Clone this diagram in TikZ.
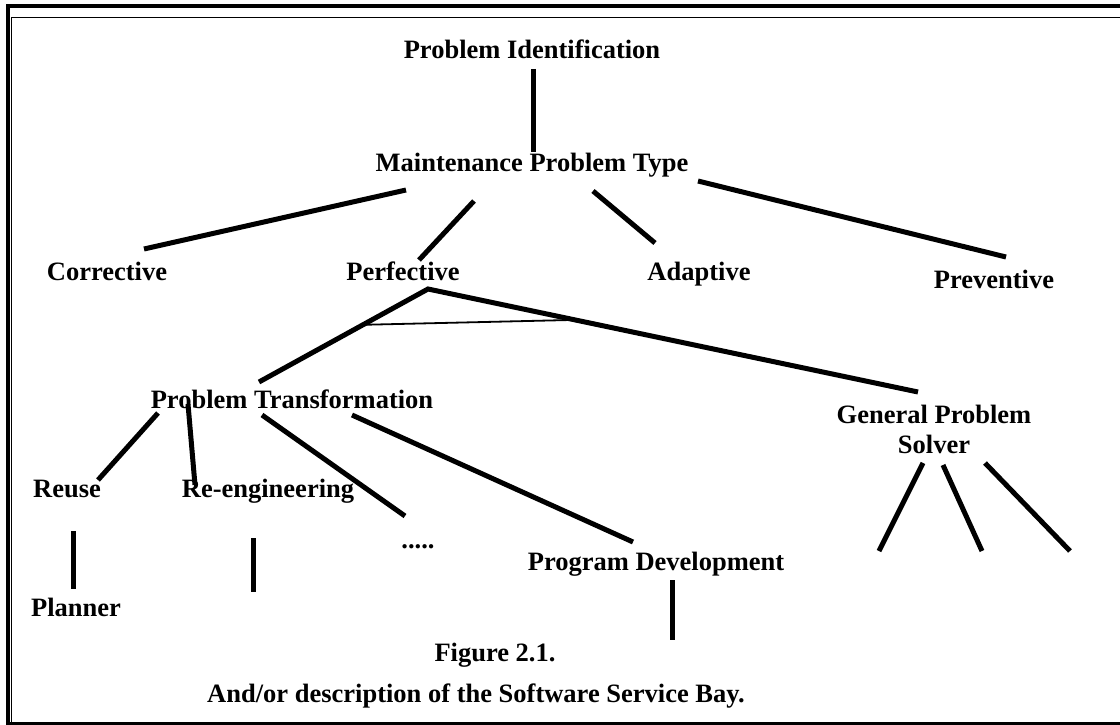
\documentclass[tikz,border=0pt]{standalone}
\usepackage{fontspec}
\setmainfont{Liberation Serif}
\usetikzlibrary{calc}
\tikzset{
  lbl/.style={font=\fontsize{26.5}{30}\selectfont\bfseries,
              inner sep=0pt,anchor=base},
  lbl2/.style={lbl,anchor=center,align=center},
  link/.style={line width=5pt},
  andlink/.style={line width=1.8pt},
  frameout/.style={line width=4pt},
  framein/.style={line width=1.6pt},
}
\begin{document}
\begin{tikzpicture}[x=1pt,y=-1pt]
    \useasboundingbox (0,0) rectangle (1120,725);

    % Frame
    \draw[frameout] (8,725) -- (8,6) -- (1120,6);
    \draw[framein] (11.5,722) -- (11.5,17.5) -- (1120,17.5);
    \draw[line width=3pt] (6,723.5) -- (1120,723.5);

    % Top levels
    \node[lbl] (pid) at (532,59) {Problem Identification};
    \node[lbl] (mpt) at (532,171) {Maintenance Problem Type};

    % Problem types
    \node[lbl] (cor) at (107,280) {Corrective};
    \node[lbl] (perf) at (403,280) {Perfective};
    \node[lbl] (adap) at (699,280) {Adaptive};
    \node[lbl] (prev) at (994,288) {Preventive};

    % Perfective methods
    \node[lbl] (ptr) at (292,408) {Problem Transformation};
    \node[lbl2] (gps) at (934,429) {General Problem\\Solver};

    % Transformations
    \node[lbl] (reuse) at (67,497) {Reuse};
    \node[lbl] (reeng) at (268,497) {Re-engineering};
    \node[lbl] (dots) at (418,548) {.....};
    \node[lbl] (pdev) at (656,570) {Program Development};
    \node[lbl] (plan) at (76,616) {Planner};

    % Caption
    \node[lbl] (fig) at (495,661) {Figure 2.1.};
    \node[lbl] (cap) at (476,702) {And/or description of the Software Service Bay.};

    % Free ends
    \coordinate (reeng-e) at (253,592);
    \coordinate (pdev-e) at (672,640);
    \coordinate (gps-a) at (879,551);
    \coordinate (gps-b) at (982,551);
    \coordinate (gps-c) at (1070,551);

    \draw[link] ([shift={(1,10)}]pid.base) -- ([shift={(1,-19)}]mpt.base);
    \draw[link] ([shift={(-126,19)}]mpt.base) -- ([shift={(37,-31)}]cor.base);
    \draw[link] ([shift={(-58,30)}]mpt.base) -- ([shift={(16,-20)}]perf.base);
    \draw[link] ([shift={(61,20)}]mpt.base) -- ([shift={(-44,-37)}]adap.base);
    \draw[link] ([shift={(166,10)}]mpt.base) -- ([shift={(12,-31)}]prev.base);

    % and-branch under Perfective
    \coordinate (apex) at ([shift={(25,9)}]perf.base);
    \coordinate (ptr-t) at ([shift={(-33,-26)}]ptr.base);
    \coordinate (gps-t) at ([shift={(-16,-37)}]gps.center);
    \draw[link] (ptr-t) -- (apex) -- (gps-t);
    \draw[andlink] ($(apex)!0.385!(ptr-t)$) -- ($(apex)!0.3!(gps-t)$);

    \draw[link] ([shift={(-134,5)}]ptr.base) -- ([shift={(31,-17)}]reuse.base);
    \draw[link] ([shift={(-104,-4)}]ptr.base) -- ([shift={(-73,-12)}]reeng.base);
    \draw[link] ([shift={(-30,7)}]ptr.base) -- ([shift={(-13,-32)}]dots.base);
    \draw[link] ([shift={(60,7)}]ptr.base) -- ([shift={(-23,-28)}]pdev.base);
    \draw[link] ([shift={(6,34)}]reuse.base) -- ([shift={(-3,-27)}]plan.base);
    \draw[link] ([shift={(-15,41)}]reeng.base) -- (reeng-e);
    \draw[link] ([shift={(16,10)}]pdev.base) -- (pdev-e);

    \draw[link] ([shift={(-11,34)}]gps.center) -- (gps-a);
    \draw[link] ([shift={(9,36)}]gps.center) -- (gps-b);
    \draw[link] ([shift={(51,34)}]gps.center) -- (gps-c);

  \end{tikzpicture}
\end{document}
